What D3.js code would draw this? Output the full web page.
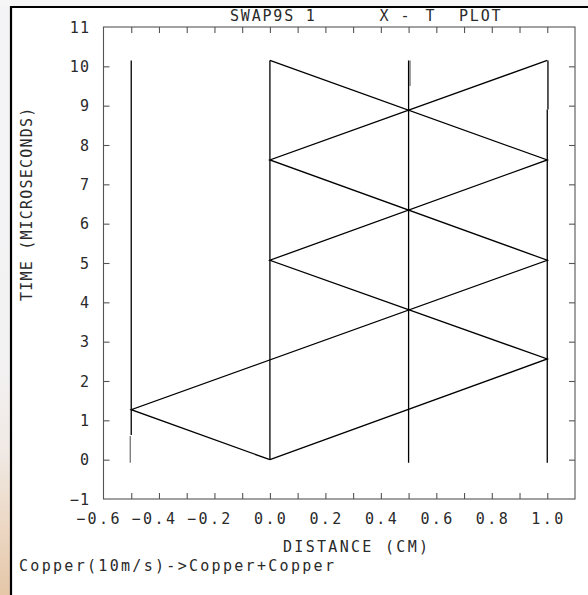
<!DOCTYPE html>
<html>
<head>
<meta charset="utf-8">
<script src="https://cdn.jsdelivr.net/npm/d3@7"></script>
<style>
  html, body { margin: 0; padding: 0; background: #ffffff; }
  svg { display: block; }
  text { font-family: "DejaVu Sans Mono", monospace; fill: #2a2a2a; }
</style>
</head>
<body>
<svg id="chart" width="588" height="595"></svg>
<script>
// ---- chart data ----------------------------------------------------------
const title = ["SWAP9S 1", "X", "-", "T", "PLOT"];
const xLabel = "DISTANCE (CM)";
const yLabel = "TIME (MICROSECONDS)";
const caption = "Copper(10m/s)->Copper+Copper";

const xDomain = [-0.6, 1.1];
const yDomain = [-1, 11];
const xMinorTicks = [-0.5, -0.4, -0.3, -0.2, -0.1, 0.0, 0.1, 0.2, 0.3, 0.4, 0.5, 0.6, 0.7, 0.8, 0.9, 1.0];
const xLabelTicks = [-0.6, -0.4, -0.2, 0.0, 0.2, 0.4, 0.6, 0.8, 1.0];
const yTicks = [0, 1, 2, 3, 4, 5, 6, 7, 8, 9, 10];
const yLabelTicks = [-1, 0, 1, 2, 3, 4, 5, 6, 7, 8, 9, 10, 11];

// material boundaries (free surfaces and interfaces): position, start time, end time
const boundaryX  = [-0.5035, -0.5, 0.0, 0.5, 0.5054, 1.0, 1.0025];
const boundaryT0 = [-0.08, 0.63, 0.0, -0.08, 9.5, -0.08, 8.9];
const boundaryT1 = [0.60, 10.15, 10.15, 10.15, 10.15, 8.9, 10.15];
const boundaryShade = [0.55, 1, 1, 1, 0.5, 1, 1];

// wave fronts launched at impact, with their reflections
const waveAX = [0.0, 1.0, 0.0, 1.0, 0.0];
const waveAT = [0.0, 2.56, 5.07, 7.62, 10.15];
const waveBX = [0.0, -0.5, 1.0, 0.0, 1.0];
const waveBT = [0.0, 1.27, 5.07, 7.62, 10.15];

// ---- layout ----------------------------------------------------------------
const W = 588, H = 595;
const plot = { left: 103.5, right: 575, top: 27, bottom: 499 };
const svg = d3.select("#chart");

const x = d3.scaleLinear().domain(xDomain).range([plot.left, plot.right]);
const y = d3.scaleLinear().domain(yDomain).range([plot.bottom, plot.top]);

// faded backdrop strip to the left of the page frame
const defs = svg.append("defs");
const grad = defs.append("linearGradient").attr("id", "strip")
  .attr("x1", 0).attr("y1", 0).attr("x2", 0).attr("y2", 1);
[["0%", "#f4f4f6"], ["60%", "#f3f2f3"], ["76%", "#f0e9e4"], ["88%", "#ecd8c5"], ["100%", "#e5c7a8"]]
  .forEach(([o, c]) => grad.append("stop").attr("offset", o).attr("stop-color", c));
svg.append("rect").attr("x", 0).attr("y", 0).attr("width", 10).attr("height", H)
  .attr("fill", "url(#strip)");
svg.append("rect").attr("x", 0).attr("y", 0).attr("width", W).attr("height", 6)
  .attr("fill", "#f6f6f7");

// page frame
svg.append("line").attr("x1", 11).attr("x2", 11).attr("y1", 6).attr("y2", H)
  .attr("stroke", "#000").attr("stroke-width", 2.2);
svg.append("line").attr("x1", 10).attr("x2", W).attr("y1", 7).attr("y2", 7)
  .attr("stroke", "#000").attr("stroke-width", 2.2);

// ---- axes (ticks pointing inward on all four sides) -------------------------
const axisColor = "#555";
function styleAxis(g) {
  g.select(".domain").remove();
  g.selectAll(".tick line").attr("stroke", axisColor).attr("stroke-width", 1.1);
  g.selectAll(".tick text").remove();
}
svg.append("g").attr("transform", `translate(0,${plot.bottom})`)
  .call(d3.axisBottom(x).tickValues(xMinorTicks).tickSizeInner(-6).tickSizeOuter(0)).call(styleAxis);
svg.append("g").attr("transform", `translate(0,${plot.top})`)
  .call(d3.axisTop(x).tickValues(xMinorTicks).tickSizeInner(-6).tickSizeOuter(0)).call(styleAxis);
svg.append("g").attr("transform", `translate(${plot.left},0)`)
  .call(d3.axisLeft(y).tickValues(yTicks).tickSizeInner(-6).tickSizeOuter(0)).call(styleAxis);
svg.append("g").attr("transform", `translate(${plot.right},0)`)
  .call(d3.axisRight(y).tickValues(yTicks).tickSizeInner(-6).tickSizeOuter(0)).call(styleAxis);

svg.append("rect")
  .attr("x", plot.left).attr("y", plot.top)
  .attr("width", plot.right - plot.left).attr("height", plot.bottom - plot.top)
  .attr("fill", "none").attr("stroke", axisColor).attr("stroke-width", 1.1);

// tick labels: monospaced, the unsigned part centred on the tick
const fs = 15, ls = 2.4, pitch = fs * 0.602 + ls;
const MINUS = "\u2212";
svg.append("g").selectAll("text").data(xLabelTicks).join("text")
  .attr("x", d => x(d) - 1.5 * pitch + ls / 2 - (d < 0 ? pitch : 0))
  .attr("y", 524)
  .attr("font-size", fs).attr("letter-spacing", ls)
  .text(d => (d < 0 ? MINUS : "") + d3.format(".1f")(Math.abs(d)));

svg.append("g").selectAll("text").data(yLabelTicks).join("text")
  .attr("x", 89 + 1.2)
  .attr("y", d => y(d) + 5.5)
  .attr("text-anchor", "end")
  .attr("font-size", fs).attr("letter-spacing", 1.2)
  .text(d => d < 0 ? MINUS + Math.abs(d) : String(d));

// axis titles and caption
svg.append("text").attr("x", 283).attr("y", 552)
  .attr("font-size", fs).attr("letter-spacing", 2.3).text(xLabel);
svg.append("text")
  .attr("transform", "translate(32,301) rotate(-90)")
  .attr("font-size", fs).attr("letter-spacing", 1.2).text(yLabel);
svg.append("text").attr("x", 19).attr("y", 571)
  .attr("font-size", fs).attr("letter-spacing", 2.3).text(caption);

// title pieces
const titlePos = [[230, "start"], [384, "middle"], [405, "middle"], [430, "middle"], [459, "start"]];
svg.append("g").selectAll("text").data(title).join("text")
  .attr("x", (d, i) => titlePos[i][0] + (titlePos[i][1] === "middle" ? 0.9 : 0))
  .attr("y", 21)
  .attr("text-anchor", (d, i) => titlePos[i][1])
  .attr("font-size", fs).attr("letter-spacing", 1.8)
  .text(d => d);

// ---- X-T diagram -------------------------------------------------------------
const marks = svg.append("g").attr("fill", "none").attr("stroke-linejoin", "miter");

marks.selectAll("line.boundary").data(boundaryX).join("line")
  .attr("class", "boundary")
  .attr("x1", d => x(d)).attr("x2", d => x(d))
  .attr("y1", (d, i) => y(boundaryT0[i])).attr("y2", (d, i) => y(boundaryT1[i]))
  .attr("stroke", "#000").attr("stroke-width", 1.3)
  .attr("stroke-opacity", (d, i) => boundaryShade[i]);

const line = d3.line().x(d => x(d[0])).y(d => y(d[1]));
[[waveAX, waveAT], [waveBX, waveBT]].forEach(([xs, ts]) => {
  marks.append("path")
    .attr("d", line(xs.map((v, i) => [v, ts[i]])))
    .attr("stroke", "#000").attr("stroke-width", 1.3);
});
</script>
</body>
</html>
